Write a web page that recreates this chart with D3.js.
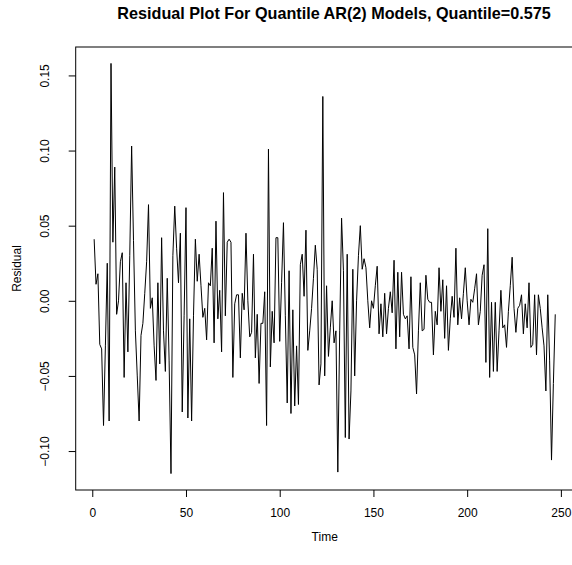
<!DOCTYPE html>
<html>
<head>
<meta charset="utf-8">
<script src="https://cdn.jsdelivr.net/npm/d3@7"></script>
<style>
  body { margin: 0; background: #fff; }
  text { font-family: "Liberation Sans", Arial, sans-serif; }
</style>
</head>
<body>
<div id="chart"></div>
<script>
// residuals, time = 1..n
var residuals = [
  0.041, 0.011, 0.018, -0.029, -0.032, -0.083, -0.030, 0.025, -0.080, 0.158,
  0.039, 0.089, -0.009, 0.000, 0.026, 0.032, -0.051, 0.012, -0.034, 0.030,
  0.103, 0.040, -0.020, -0.050, -0.080, -0.023, -0.015, 0.005, 0.026, 0.064,
  -0.005, 0.002, -0.030, -0.053, 0.012, -0.042, 0.042, -0.020, -0.047, 0.015,
  -0.040, -0.115, 0.030, 0.063, 0.035, 0.012, 0.045, -0.074, -0.010, 0.062,
  -0.078, -0.012, -0.080, -0.010, 0.041, 0.013, 0.031, 0.010, -0.011, -0.005,
  -0.026, 0.012, 0.010, 0.035, -0.028, 0.053, -0.012, 0.007, -0.034, 0.072,
  -0.010, 0.039, 0.041, 0.039, -0.051, -0.002, 0.004, 0.004, -0.038, 0.005,
  -0.006, 0.045, 0.000, -0.024, -0.021, 0.031, -0.038, -0.009, -0.055, -0.015,
  -0.015, 0.006, -0.083, 0.101, -0.044, -0.007, -0.028, 0.042, 0.042, -0.027,
  0.012, 0.052, -0.010, -0.068, 0.020, -0.075, -0.006, -0.070, -0.030, -0.069,
  0.024, 0.031, 0.003, 0.047, -0.033, -0.020, -0.005, 0.015, 0.037, 0.021,
  -0.056, -0.042, 0.136, -0.050, 0.010, -0.037, -0.018, 0.000, -0.028, -0.020,
  -0.114, -0.020, 0.055, 0.020, -0.091, 0.031, -0.092, -0.060, 0.021, -0.050,
  0.000, 0.030, 0.050, 0.021, 0.028, 0.022, 0.000, -0.018, 0.000, -0.005,
  0.010, 0.023, -0.022, -0.002, -0.024, 0.005, -0.022, -0.005, 0.006, -0.008,
  0.027, -0.032, 0.019, -0.024, 0.019, -0.009, -0.012, -0.010, -0.032, 0.016,
  -0.031, -0.036, -0.062, -0.020, 0.012, -0.020, -0.019, 0.017, 0.001, -0.001,
  -0.001, -0.036, -0.007, -0.016, 0.022, -0.007, 0.014, -0.025, 0.010, -0.033,
  -0.012, 0.003, -0.011, 0.035, -0.016, 0.002, -0.012, 0.005, 0.022, 0.000,
  -0.016, 0.001, -0.001, 0.008, 0.018, -0.016, -0.007, 0.017, 0.024, -0.041,
  0.048, -0.051, -0.001, -0.047, -0.001, -0.047, -0.020, 0.007, -0.018, -0.016,
  -0.031, -0.007, 0.010, 0.029, -0.005, -0.021, -0.005, -0.003, 0.004, -0.022,
  -0.002, -0.018, 0.012, -0.031, -0.029, 0.004, -0.036, 0.004, -0.005, -0.018,
  -0.030, -0.060, 0.004, -0.040, -0.106, -0.055, -0.009
];
var xTicks = [0, 50, 100, 150, 200, 250];
var yTicks = [-0.10, -0.05, 0.00, 0.05, 0.10, 0.15];
var chartTitle = 'Residual Plot For Quantile AR(2) Models, Quantile=0.575';
var xLabel = 'Time';
var yLabel = 'Residual';

var svgWidth = 572;
var svgHeight = 565;
var margins = { top: 47, left: 75.7, bottom: 75 };
var width = 498;
var height = svgHeight - margins.top - margins.bottom;

var data = residuals.map(function(r, i) { return { t: i + 1, r: r }; });

// R style: pad the data range by 4% on each side
function padded(ext) {
  var d = (ext[1] - ext[0]) * 0.04;
  return [ext[0] - d, ext[1] + d];
}

var x = d3.scaleLinear()
  .domain(padded(d3.extent(data, d => d.t)))
  .range([0, width]);
var y = d3.scaleLinear()
  .domain(padded(d3.extent(data, d => d.r)))
  .range([height, 0]);

var svg = d3.select('#chart').append('svg')
  .attr('width', svgWidth)
  .attr('height', svgHeight);
var chart = svg.append('g').attr('transform', `translate(${margins.left}, ${margins.top})`);

// residual line
chart.append('path')
  .datum(data)
  .attr('fill', 'none')
  .attr('stroke', '#000')
  .attr('stroke-width', 1)
  .attr('stroke-linejoin', 'round')
  .attr('d', d3.line().x(d => x(d.t)).y(d => y(d.r)));

// box
chart.append('rect')
  .attr('x', 0).attr('y', 0)
  .attr('width', width).attr('height', height)
  .attr('fill', 'none')
  .attr('stroke', '#000')
  .attr('stroke-width', 1);

// axes
var bottomAxis = d3.axisBottom(x).tickValues(xTicks).tickSize(7).tickPadding(11)
  .tickFormat(d3.format('d'));
var leftAxis = d3.axisLeft(y).tickValues(yTicks).tickSize(7).tickPadding(0)
  .tickFormat(d3.format('.2f'));

var gx = chart.append('g')
  .attr('transform', `translate(0, ${height})`)
  .call(bottomAxis);
gx.select('.domain').remove();
gx.selectAll('text').attr('font-size', '12px').attr('fill', '#000')
  .style('font-family', '"Liberation Sans", Arial, sans-serif');

var gy = chart.append('g').call(leftAxis);
gy.select('.domain').remove();
gy.selectAll('text')
  .attr('font-size', '12px').attr('fill', '#000')
  .style('font-family', '"Liberation Sans", Arial, sans-serif')
  .attr('x', null).attr('dy', null)
  .attr('text-anchor', 'middle')
  .attr('transform', 'translate(-27, 0) rotate(-90)');

// title and axis labels
svg.append('text')
  .attr('x', 334)
  .attr('y', 19)
  .attr('text-anchor', 'middle')
  .attr('font-size', '16.2px')
  .attr('font-weight', 'bold')
  .text(chartTitle);

svg.append('text')
  .attr('x', margins.left + width / 2)
  .attr('y', 541)
  .attr('text-anchor', 'middle')
  .attr('font-size', '12px')
  .text(xLabel);

svg.append('text')
  .attr('transform', `translate(21, ${margins.top + height / 2}) rotate(-90)`)
  .attr('text-anchor', 'middle')
  .attr('font-size', '12px')
  .text(yLabel);
</script>
</body>
</html>
